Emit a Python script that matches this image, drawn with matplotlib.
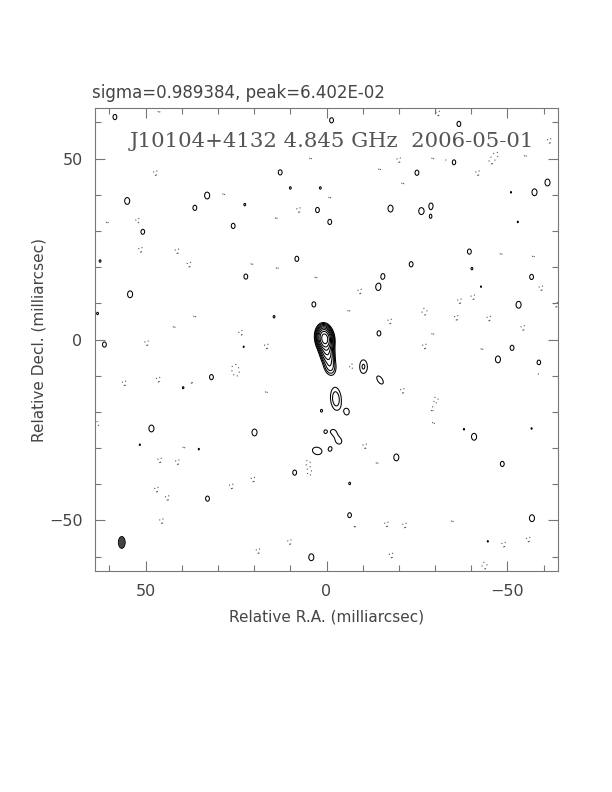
import numpy as np
import matplotlib
matplotlib.use("Agg")
import matplotlib.pyplot as plt
from matplotlib.patches import Ellipse

# ---------------- data ----------------
sigma_mjy = 0.989384
peak_jy = 6.402e-02
source = "J10104+4132"
freq = "4.845 GHz"
epoch = "2006-05-01"

# extended emission components: RA offset, Dec offset (mas), peak (mJy/beam),
# sigma along major / minor axis (mas), major-axis angle (deg, from +RA)
comp_x = [0.5, -0.2, -1.0, -2.6, -10.2, -14.8, -2.0, -3.4, 2.6]
comp_y = [0.3, -3.8, -7.6, -16.4, -7.5, -11.2, -25.6, -28.0, -30.8]
comp_amp = [60.0, 14.0, 6.5, 5.2, 4.4, 3.7, 3.5, 3.9, 4.0]
comp_smaj = [1.8, 1.8, 1.7, 3.0, 2.1, 1.9, 1.1, 1.25, 1.7]
comp_smin = [1.15, 1.15, 1.2, 1.4, 1.2, 1.0, 0.9, 1.0, 1.3]
comp_pa = [82, 80, 80, 85, 90, 56, 60, 60, 15]

# positive noise peaks (mas, mas, mJy/beam)
pos_x = [58.5, 12.8, 10.0, 1.7, 55.1, 33.0, 36.4, 22.6, 2.5, 50.8, 25.8, 62.6, 8.2, 22.3,
         54.3, 3.5, 63.3, 14.5,
         -1.4, -36.6, -35.2, -25.0, -61.1, -57.5, -51.0, -17.7, -26.2, -28.9, -28.8, -52.9,
         -0.9, -39.5, -40.2, -23.4, -15.6, -14.3, -56.7, -42.7, -53.1, -14.5,
         61.4, 31.8, 39.6, 22.9, 48.4, 19.9, 51.6, 35.3, 1.4, 0.4, 8.8, 32.9, 4.2,
         -51.3, -47.4, -58.7, -5.7, -1.1, -40.8, -38.0, -56.7, -19.3, -48.6, -6.4, -6.4,
         -56.8, -44.6]
pos_y = [61.5, 46.2, 41.9, 41.9, 38.3, 39.8, 36.4, 37.3, 35.8, 29.8, 31.4, 21.7, 22.3, 17.4,
         12.5, 9.7, 7.2, 6.3,
         60.6, 59.6, 49.0, 46.1, 43.4, 40.7, 40.7, 36.2, 35.5, 37.0, 33.9, 32.5,
         32.5, 24.3, 19.6, 20.8, 17.5, 14.5, 17.3, 14.6, 9.6, 1.7,
         -1.4, -10.4, -13.3, -2.0, -24.6, -25.7, -29.1, -30.3, -19.7, -25.5, -36.8, -44.0, -60.2,
         -2.3, -5.5, -6.4, -20.0, -30.2, -26.9, -24.8, -24.6, -32.6, -34.4, -39.8, -48.6,
         -49.4, -55.8]
pos_amp = [3.6, 3.6, 3.1, 3.1, 4.15, 4.15, 3.6, 3.1, 3.6, 3.6, 3.6, 3.1, 3.6, 3.6,
           4.15, 3.6, 3.1, 3.1,
           3.6, 3.6, 3.6, 3.6, 4.15, 4.15, 3.02, 4.15, 4.15, 3.6, 3.1, 3.02,
           3.6, 3.6, 3.1, 3.6, 3.6, 4.15, 3.6, 3.02, 4.15, 3.6,
           3.6, 3.6, 3.1, 3.02, 4.15, 4.15, 3.02, 3.02, 3.1, 3.1, 3.6, 3.6, 4.15,
           3.6, 4.15, 3.6, 3.6, 3.1, 4.15, 3.02, 3.02, 4.15, 3.6, 3.1, 3.6,
           4.15, 3.02]

# negative noise peaks (mas, mas, mJy/beam)
neg_x = [47.3, 52.2, 51.4, 41.3, 38.0, 28.4, 7.7, 13.9, 4.4, 20.6, 13.6, 2.9, 60.6, 36.4,
         42.1, 23.7, 46.3,
         -30.8, -20.0, -32.9, -46.9, -45.5, -41.8, -14.7, -21.1, -29.4, -61.6, -55.0, -0.9,
         -48.3, -57.2, -59.3, -40.5, -36.8, -27.1, -9.2, -17.5, -35.9, -44.9, -54.3, -6.2,
         -29.4, -63.4,
         49.7, 55.9, 46.5, 37.3, 25.4, 24.9, 16.6, 16.6, 46.1, 41.2, 39.4, 47.0, 44.0, 45.6,
         26.3, 20.3, 5.1, 4.7, 10.2, 18.9, 63.5,
         -27.1, -43.0, -6.9, -21.0, -30.3, -29.2, -29.6, -10.6, -14.0, -16.6, -21.6, -34.8,
         -17.9, -49.0, -55.8, -43.7, -58.4, -7.8]
neg_y = [46.1, 32.9, 24.9, 24.5, 20.8, 40.3, 35.9, 33.7, 50.2, 21.0, 19.9, 17.3, 32.5, 6.5,
         3.6, 1.9, 63.1,
         62.6, 49.7, 49.7, 51.1, 49.3, 46.1, 47.2, 43.3, 50.2, 55.0, 50.9, 39.4,
         23.8, 23.1, 14.3, 11.8, 10.7, 7.7, 13.4, 5.1, 6.1, 5.9, 3.3, 8.1,
         1.7, 9.7,
         -0.9, -12.0, -11.0, -11.8, -7.8, -9.2, -1.8, -14.4, -33.3, -33.8, -29.7, -41.4, -43.7,
         -50.1, -40.5, -38.6, -34.0, -36.8, -55.9, -58.4, -23.4,
         -1.8, -2.5, -7.4, -14.1, -16.6, -19.3, -23.0, -29.4, -34.0, -51.0, -51.3, -50.1,
         -59.6, -56.6, -55.2, -62.5, -9.5, -51.5]
neg_amp = [-3.6, -3.6, -3.6, -3.6, -3.6, -3.1, -3.6, -3.1, -3.1, -3.1, -3.1, -3.1, -3.1, -3.1,
           -3.1, -3.6, -3.1,
           -3.6, -3.6, -3.1, -3.6, -3.6, -3.6, -3.1, -3.1, -3.1, -3.6, -3.1, -3.1,
           -3.1, -3.1, -3.6, -3.6, -3.6, -4.1, -3.6, -3.6, -3.6, -3.6, -3.6, -3.1,
           -3.1, -3.6,
           -3.6, -3.6, -3.6, -3.1, -3.6, -3.6, -3.6, -3.1, -3.6, -3.6, -3.1, -3.6, -3.6, -3.6,
           -3.6, -3.6, -3.6, -3.6, -3.6, -3.6, -3.6,
           -3.6, -3.1, -3.6, -3.6, -3.6, -3.1, -3.1, -3.6, -3.1, -3.6, -3.6, -3.1,
           -3.6, -3.6, -3.6, -4.1, -3.1, -3.1]

# restoring beam: centre (mas), FWHM minor/major (mas), PA (deg)
beam_x, beam_y = 56.6, -56.1
beam_minor, beam_major, beam_pa = 1.9, 3.3, 0.0

# ---------------- image ----------------
half = 64.0
step = 0.1
grid = np.arange(-half, half + step / 2, step)
X, Y = np.meshgrid(grid, grid)
img = np.zeros_like(X)


def add_gauss(x0, y0, a, smaj, smin, pa):
    r = 5.0 * max(smaj, smin)
    i0, i1 = np.searchsorted(grid, [y0 - r, y0 + r])
    j0, j1 = np.searchsorted(grid, [x0 - r, x0 + r])
    dx = X[i0:i1, j0:j1] - x0
    dy = Y[i0:i1, j0:j1] - y0
    th = np.deg2rad(pa)
    u = dx * np.cos(th) + dy * np.sin(th)
    v = -dx * np.sin(th) + dy * np.cos(th)
    img[i0:i1, j0:j1] += a * np.exp(-(u ** 2 / (2 * smaj ** 2) + v ** 2 / (2 * smin ** 2)))


for c in zip(comp_x, comp_y, comp_amp, comp_smaj, comp_smin, comp_pa):
    add_gauss(*c)
for x0, y0, a in zip(pos_x, pos_y, pos_amp):
    add_gauss(x0, y0, a, 1.15, 0.85, 90)
for x0, y0, a in zip(neg_x, neg_y, neg_amp):
    add_gauss(x0, y0, a, 1.15, 0.85, 90)

base = 3 * sigma_mjy
pos_levels = [base * np.sqrt(2) ** n for n in range(12) if base * np.sqrt(2) ** n < peak_jy * 1000]
neg_levels = [-base]

# ---------------- figure ----------------
W, H = 612, 792
fig = plt.figure(figsize=(W / 100, H / 100), dpi=100)
ax = fig.add_axes([95 / W, 1 - 571 / H, 463 / W, 463 / H])

frame_col = "#777777"
text_col = "#444444"

ax.contour(X, Y, img, levels=pos_levels, colors="black", linewidths=0.75)
ax.contour(X, Y, img, levels=neg_levels, colors="#555555", linewidths=0.8,
           linestyles=[(0, (1, 3))])

ax.add_patch(Ellipse((beam_x, beam_y), beam_minor, beam_major, angle=beam_pa,
                     facecolor="#444444", edgecolor="black", lw=0.6))

ax.set_xlim(half, -half)
ax.set_ylim(-half, half)
ax.set_xticks([50, 0, -50])
ax.set_yticks([-50, 0, 50])
ax.set_xticks(np.arange(-60, 61, 10), minor=True)
ax.set_yticks(np.arange(-60, 61, 10), minor=True)
ax.tick_params(which="both", direction="in", top=True, right=True, color=frame_col,
               labelcolor=text_col, labelsize=11.5, width=0.8)
ax.tick_params(which="major", length=7, pad=9)
ax.tick_params(which="minor", length=4)
for s in ax.spines.values():
    s.set_color(frame_col)
    s.set_linewidth(0.8)

ax.set_xlabel("Relative R.A. (milliarcsec)", fontsize=11, color=text_col, labelpad=8)
ax.set_ylabel("Relative Decl. (milliarcsec)", fontsize=11, color=text_col, labelpad=2)

fig.text(92 / W, 1 - 93 / H, f"sigma={sigma_mjy:.6f}, peak={peak_jy:.3E}",
         ha="left", va="center", fontsize=12, color=text_col)
ax.text(0.511, 0.927, f"{source} {freq}  {epoch}", transform=ax.transAxes,
        ha="center", va="center", fontsize=15.3, family="DejaVu Serif", color="#555555")

fig.savefig("out.png", dpi=100, facecolor="white")
